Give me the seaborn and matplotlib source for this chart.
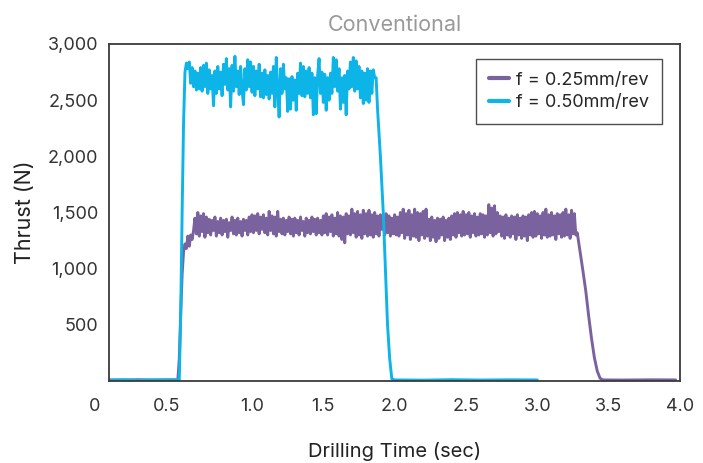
import numpy as np
import pandas as pd
import matplotlib.pyplot as plt
import matplotlib.transforms as mtransforms
import seaborn as sns

# sampling step of the plateau recordings (sec)
dt = 0.01

# f = 0.25 mm/rev  (purple)
slow_lead_t = [0.0, 0.1, 0.2, 0.3, 0.4, 0.48, 0.49, 0.50, 0.51, 0.52, 0.53, 0.54, 0.55, 0.56, 0.57, 0.58, 0.59]
slow_lead_f = [10, 8, 12, 9, 11, 10, 200, 600, 950, 1150, 1220, 1180, 1290, 1200, 1300, 1260, 1340]
slow_plateau_t0 = 0.60
slow_plateau = [
    1450, 1310, 1500, 1290, 1470, 1330, 1490, 1280, 1460, 1320,
    1440, 1300, 1430, 1340, 1460, 1290, 1420, 1320, 1450, 1300,
    1430, 1330, 1440, 1280, 1410, 1340, 1460, 1310, 1430, 1300,
    1450, 1320, 1420, 1290, 1440, 1340, 1430, 1300, 1460, 1330,
    1480, 1320, 1470, 1340, 1490, 1310, 1460, 1350, 1480, 1320,
    1450, 1300, 1510, 1340, 1470, 1310, 1460, 1290, 1510, 1330,
    1440, 1310, 1450, 1300, 1430, 1330, 1460, 1310, 1440, 1290,
    1450, 1320, 1430, 1300, 1460, 1340, 1420, 1290, 1450, 1320,
    1430, 1310, 1460, 1330, 1440, 1300, 1450, 1320, 1430, 1300,
    1470, 1320, 1490, 1300, 1460, 1330, 1480, 1290, 1450, 1310,
    1500, 1290, 1470, 1260, 1460, 1230, 1490, 1310, 1470, 1300,
    1530, 1320, 1490, 1280, 1510, 1300, 1480, 1270, 1520, 1310,
    1490, 1290, 1520, 1300, 1480, 1280, 1500, 1310, 1470, 1290,
    1480, 1350, 1460, 1300, 1490, 1320, 1470, 1290, 1450, 1310,
    1480, 1300, 1460, 1290, 1500, 1320, 1530, 1270, 1490, 1300,
    1520, 1260, 1480, 1290, 1530, 1280, 1500, 1250, 1490, 1300,
    1510, 1270, 1530, 1290, 1440, 1250, 1460, 1280, 1430, 1240,
    1450, 1270, 1440, 1300, 1460, 1250, 1430, 1280, 1450, 1260,
    1470, 1300, 1490, 1280, 1500, 1320, 1480, 1290, 1510, 1300,
    1480, 1310, 1500, 1280, 1470, 1320, 1490, 1290, 1460, 1300,
    1490, 1310, 1480, 1280, 1470, 1300, 1570, 1320, 1540, 1290,
    1560, 1310, 1500, 1330, 1470, 1290, 1460, 1270, 1480, 1300,
    1450, 1280, 1470, 1310, 1460, 1260, 1480, 1300, 1450, 1270,
    1470, 1290, 1460, 1250, 1480, 1300, 1500, 1280, 1510, 1290,
    1490, 1310, 1470, 1270, 1500, 1300, 1530, 1280, 1480, 1290,
    1500, 1300, 1470, 1260, 1490, 1310, 1480, 1280, 1500, 1290,
    1530, 1300, 1480, 1270, 1520, 1310, 1490, 1300,
]
slow_tail_t = [3.28, 3.30, 3.32, 3.34, 3.36, 3.38, 3.40, 3.42, 3.44, 3.46, 3.6, 3.8, 3.97]
slow_tail_f = [1320, 1150, 980, 800, 580, 380, 210, 90, 25, 10, 9, 11, 10]

# f = 0.50 mm/rev  (blue)
fast_lead_t = [0.0, 0.1, 0.2, 0.3, 0.4, 0.49, 0.50, 0.51, 0.52, 0.53]
fast_lead_f = [8, 12, 6, 10, 9, 11, 600, 1500, 2300, 2750]
fast_plateau_t0 = 0.54
fast_plateau = [
    2830, 2780, 2840, 2650, 2790, 2620, 2760, 2590, 2740, 2600,
    2790, 2580, 2810, 2620, 2830, 2560, 2770, 2600, 2720, 2450,
    2760, 2560, 2800, 2600, 2750, 2540, 2820, 2640, 2870, 2590,
    2780, 2440, 2810, 2580, 2890, 2620, 2760, 2550, 2800, 2600,
    2460, 2780, 2590, 2860, 2620, 2840, 2570, 2800, 2540, 2760,
    2600, 2820, 2530, 2740, 2520, 2770, 2550, 2720, 2510, 2750,
    2560, 2800, 2440, 2880, 2590, 2350, 2780, 2560, 2820, 2600,
    2700, 2400, 2690, 2420, 2710, 2500, 2680, 2410, 2740, 2560,
    2830, 2540, 2800, 2530, 2760, 2560, 2790, 2520, 2740, 2370,
    2700, 2380, 2720, 2870, 2560, 2750, 2480, 2730, 2410, 2700,
    2500, 2740, 2560, 2880, 2620, 2860, 2580, 2780, 2420, 2700,
    2480, 2720, 2370, 2760, 2600, 2840, 2620, 2880, 2580, 2850,
    2600, 2800, 2520, 2760, 2470, 2740, 2500, 2780, 2480, 2760,
    2560, 2770, 2700,
]
fast_tail_t = [1.87, 1.88, 1.90, 1.91, 1.92, 1.935, 1.95, 1.965, 1.98, 2.0, 2.2, 2.4, 2.6, 2.8, 3.0]
fast_tail_f = [2700, 2420, 2000, 1750, 1500, 1000, 500, 200, 20, 10, 8, 12, 9, 11, 10]

labels = ["f = 0.25mm/rev", "f = 0.50mm/rev"]
colors = ["#7A629F", "#0DB4E8"]

x_ticks = [0, 0.5, 1.0, 1.5, 2.0, 2.5, 3.0, 3.5, 4.0]
x_ticklabels = ["0", "0.5", "1.0", "1.5", "2.0", "2.5", "3.0", "3.5", "4.0"]
y_ticks = [500, 1000, 1500, 2000, 2500, 3000]
y_ticklabels = ["500", "1,000", "1,500", "2,000", "2,500", "3,000"]


def series(lead_t, lead_f, t0, plateau, tail_t, tail_f, name):
    plat_t = np.round(t0 + dt * np.arange(len(plateau)), 3)
    t = np.concatenate([lead_t, plat_t, tail_t])
    f = np.concatenate([lead_f, plateau, tail_f])
    return pd.DataFrame({"time": t, "thrust": f, "feed": name})


df = pd.concat([
    series(slow_lead_t, slow_lead_f, slow_plateau_t0, slow_plateau, slow_tail_t, slow_tail_f, labels[0]),
    series(fast_lead_t, fast_lead_f, fast_plateau_t0, fast_plateau, fast_tail_t, fast_tail_f, labels[1]),
])

sns.set_theme(style="white")
plt.rcParams["font.family"] = ["Inter", "DejaVu Sans"]

fig = plt.figure(figsize=(7.03, 4.63), dpi=100)
ax = fig.add_axes([0.1556, 0.177, 0.8116, 0.728])

sns.lineplot(data=df, x="time", y="thrust", hue="feed", palette=colors,
             estimator=None, sort=False, linewidth=2.1, ax=ax)

ax.set_xlim(0, 4)
ax.set_ylim(0, 3000)
ax.set_xticks(x_ticks)
ax.set_xticklabels(x_ticklabels)
ax.set_yticks(y_ticks)
ax.set_yticklabels(y_ticklabels)
ax.tick_params(axis="both", direction="in", length=9, width=1, color="#999999",
               labelcolor="#333333", labelsize=13)
ax.tick_params(axis="x", pad=12)
ax.tick_params(axis="y", pad=8)

# the first two x labels sit slightly left in the original
for lab, dx in zip(ax.get_xticklabels()[:2], [-15, -14]):
    lab.set_transform(lab.get_transform() + mtransforms.ScaledTranslation(dx / 100, 0, fig.dpi_scale_trans))

for s in ax.spines.values():
    s.set_color("#3a3a3a")
    s.set_linewidth(1.3)

ax.set_xlabel("Drilling Time (sec)", fontsize=14.5, color="#222222", labelpad=20)
ax.set_ylabel("Thrust (N)", fontsize=15.5, color="#222222", labelpad=9)
ax.set_title("Conventional", fontsize=15.5, color="#999999", pad=9)

leg = ax.legend(loc="upper right", bbox_to_anchor=(0.968, 0.955), borderaxespad=0,
                fontsize=13, frameon=True, fancybox=False, handlelength=1.1,
                handletextpad=0.4, borderpad=0.7, labelspacing=0.3)
leg.get_frame().set_edgecolor("#222222")
leg.get_frame().set_linewidth(1.0)
for h in leg.get_lines():
    h.set_linewidth(3)

fig.savefig("out.png", dpi=100)
